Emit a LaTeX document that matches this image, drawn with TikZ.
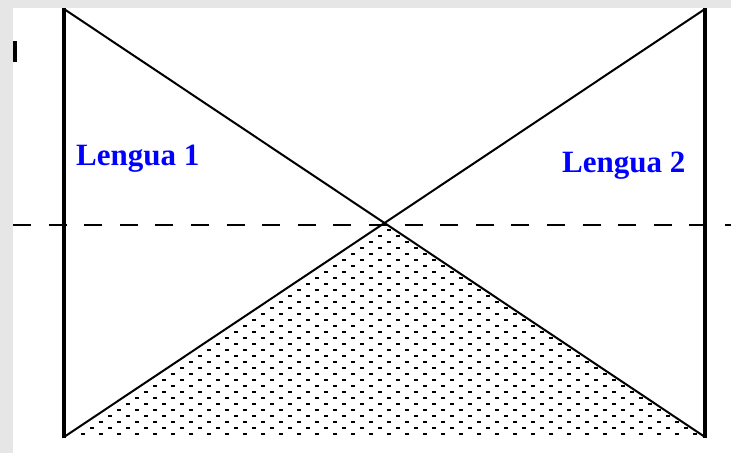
\documentclass[tikz,border=0pt]{standalone}
\usepackage{fontspec}
\setmainfont{Liberation Serif}
\usepackage{tikz}
\definecolor{framegray}{RGB}{230, 230, 230}
\definecolor{langblue}{RGB}{0, 0, 255}

\begin{document}
\begin{tikzpicture}[
    x=1pt, y=-1pt,
    post/.style={line width=4pt},
    diag/.style={line width=2pt},
    midline/.style={line width=2pt, dash pattern=on 18pt off 17.6pt},
    lang/.style={text=langblue, font=\fontsize{31}{36}\selectfont\bfseries, inner sep=0pt, anchor=base west},
    dotmark/.style={fill=black}
]
    % Frame
    \fill[framegray] (0,0) rectangle (731,453);
    \fill[white] (13,8) rectangle (731,453);
    \useasboundingbox (0,0) rectangle (731,453);

    % Corners and crossing
    \coordinate (tl) at (64,8);
    \coordinate (bl) at (64,438);
    \coordinate (tr) at (705,8);
    \coordinate (br) at (705,438);
    \coordinate (dtl) at (64,9);
    \coordinate (dbl) at (64,437);
    \coordinate (dtr) at (705,9);
    \coordinate (dbr) at (705,437);
    \coordinate (cross) at (384.5,223);
    \coordinate (midl) at (13,225);
    \coordinate (midr) at (731,225);

    % Dotted lower triangle
    \begin{scope}
        \clip (cross) -- (dbl) -- (dbr) -- cycle;
        \foreach \j [evaluate=\j as \yy using 223+6*\j,
                     evaluate=\j as \off using {9*mod(\j,2)}] in {1,...,36}
            \foreach \i in {3,...,39}
                \fill[dotmark] (\i*18+\off,\yy) rectangle ++(4,2);
    \end{scope}

    % Posts and diagonals
    \draw[post] (tl) -- (bl);
    \draw[post] (tr) -- (br);
    \draw[diag] (dtl) -- (dbr);
    \draw[diag] (dtr) -- (dbl);

    % Dashed middle line
    \draw[midline] (midl) -- (midr);

    % Small mark at the left edge
    \fill (13,41) rectangle (17,62);

    % Labels
    \node[lang] (lang1) at (76,165) {Lengua 1};
    \node[lang] (lang2) at (562,172) {Lengua 2};
\end{tikzpicture}
\end{document}
